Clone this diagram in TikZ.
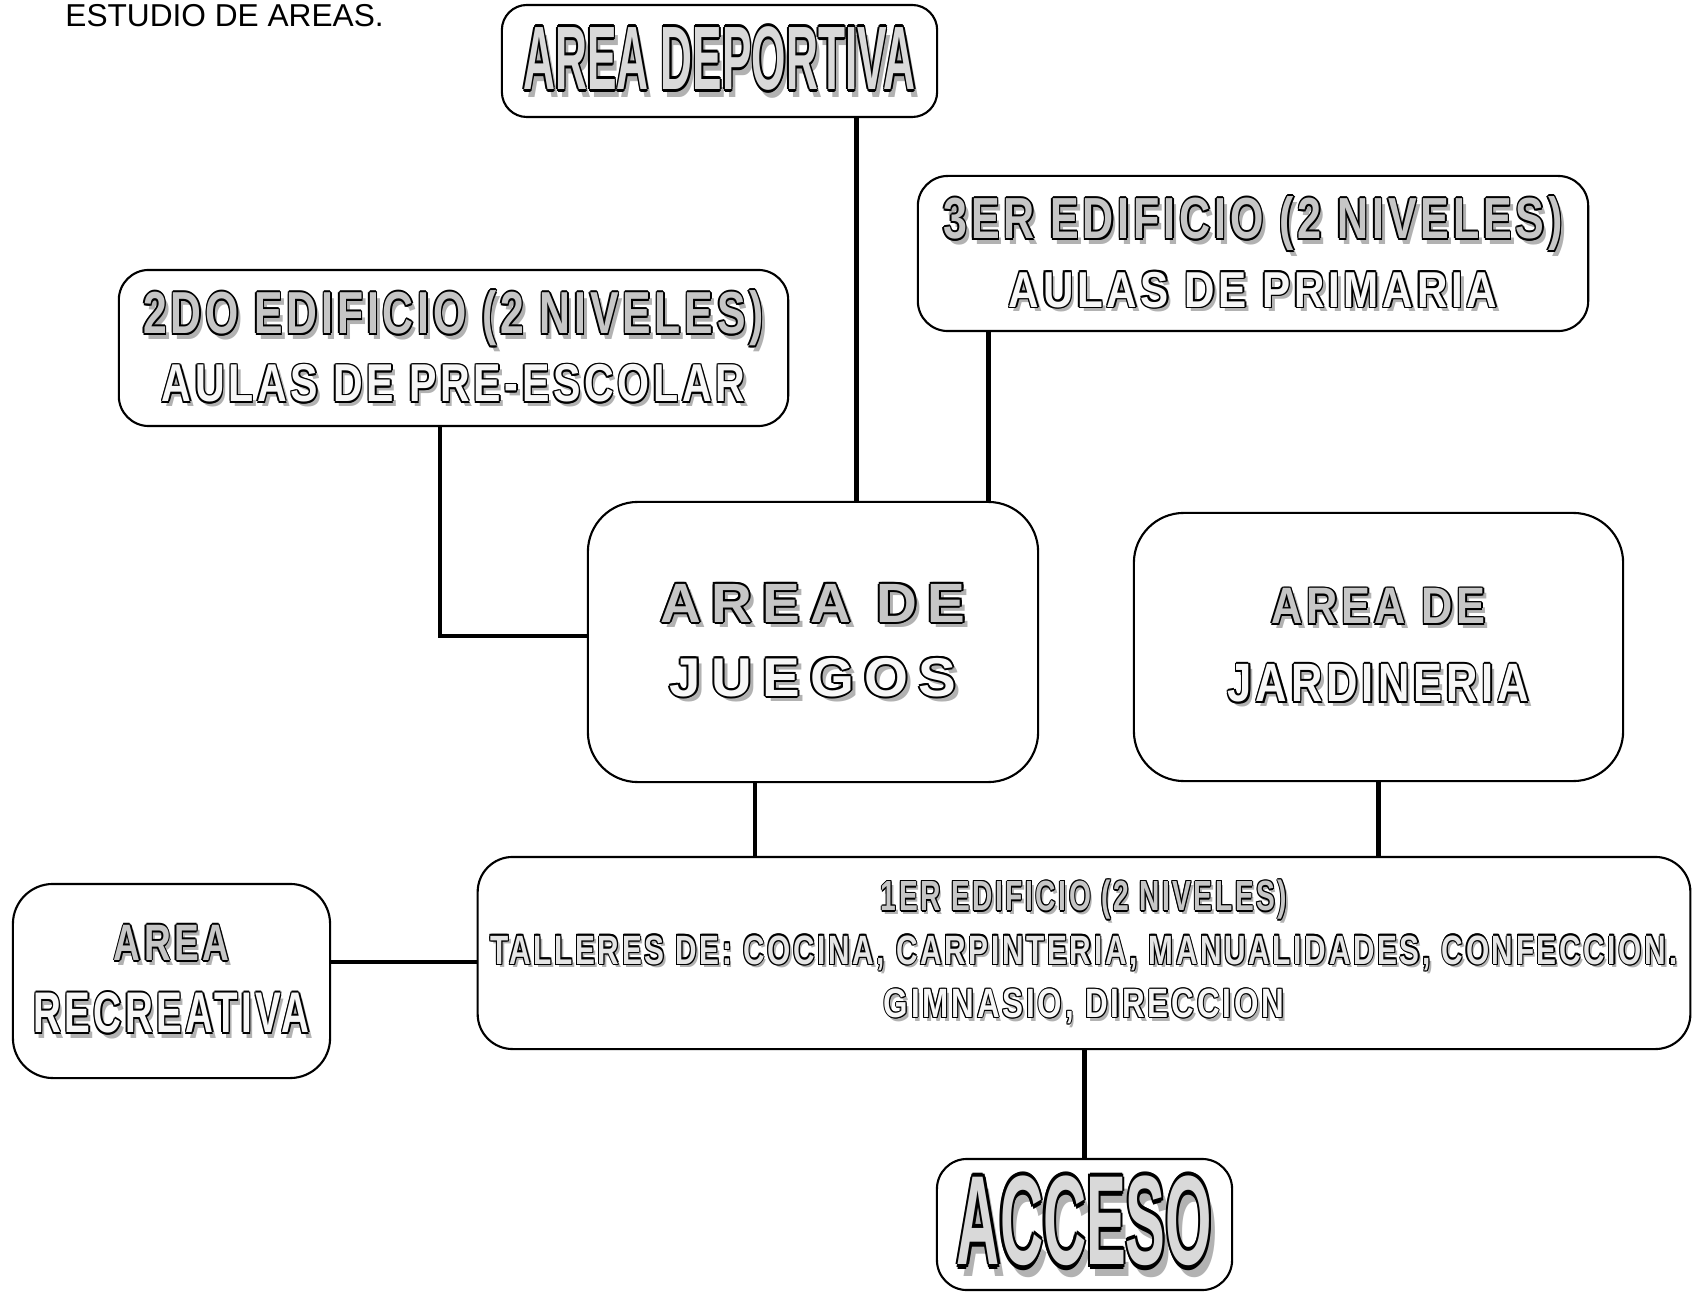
\documentclass[tikz,border=0pt]{standalone}
\usepackage{fontspec}
\usepackage{graphicx}
\setmainfont{Liberation Sans}
\newfontfamily\spaced[LetterSpace=18]{Liberation Sans}
\newfontfamily\wide[LetterSpace=9]{Liberation Sans}

% texto tipo "wordart": sombra, contorno y relleno
\newcommand\wcopy[3]{\makebox[0pt][l]{\kern#1\raisebox{#2}{#3}}}
\newcommand\wart[2]{{%
  \color{gray!60}\wcopy{.09em}{-.09em}{#2}%
  \color{black}%
  \wcopy{.035em}{0em}{#2}\wcopy{-.035em}{0em}{#2}%
  \wcopy{0em}{.035em}{#2}\wcopy{0em}{-.035em}{#2}%
  \wcopy{.025em}{.025em}{#2}\wcopy{-.025em}{.025em}{#2}%
  \wcopy{.025em}{-.025em}{#2}\wcopy{-.025em}{-.025em}{#2}%
  \color{#1}#2}}
\newcommand\wline[4]{\resizebox{#1}{#2}{\wart{#3}{#4}}}

\begin{document}
\begin{tikzpicture}[x=0.01cm,y=-0.01cm,
  box/.style={draw, line width=0.6pt, inner sep=0pt, align=center},
  link/.style={line width=1.4pt}]
\useasboundingbox (0,0) rectangle (1695,1292);

\node[anchor=base west, font=\fontsize{9}{11}\selectfont] (titulo) at (53,27) {ESTUDIO DE AREAS.};

%cajas
\node[box, rounded corners=0.25cm, minimum width=4.35cm, minimum height=1.12cm,
  font=\bfseries] (dep) at (719.5,61)
  {\wline{3.92cm}{0.66cm}{gray!30}{AREA DEPORTIVA}};
\node[box, rounded corners=0.3cm, minimum width=6.70cm, minimum height=1.55cm,
  font=\bfseries\fontsize{10}{19.4pt}\selectfont] (tercero) at (1253,253.5)
  {\wline{6.19cm}{0.44cm}{gray!45}{\wide 3ER EDIFICIO (2 NIVELES)}\\
   \wline{4.88cm}{0.37cm}{gray!6}{\wide AULAS DE PRIMARIA}};
\node[box, rounded corners=0.3cm, minimum width=6.69cm, minimum height=1.56cm,
  font=\bfseries\fontsize{10}{19.4pt}\selectfont] (segundo) at (453.5,348)
  {\wline{6.20cm}{0.45cm}{gray!45}{\wide 2DO EDIFICIO (2 NIVELES)}\\
   \wline{5.83cm}{0.39cm}{gray!6}{\wide AULAS DE PRE-ESCOLAR}};
\node[box, rounded corners=0.5cm, minimum width=4.50cm, minimum height=2.80cm,
  font=\bfseries\fontsize{10}{21pt}\selectfont] (juegos) at (813,642)
  {\wline{3.05cm}{0.40cm}{gray!45}{\spaced AREA DE}\\
   \wline{2.86cm}{0.40cm}{gray!6}{\spaced JUEGOS}};
\node[box, rounded corners=0.5cm, minimum width=4.89cm, minimum height=2.68cm,
  font=\bfseries\fontsize{10}{22.1pt}\selectfont] (jardin) at (1378.5,647)
  {\wline{2.14cm}{0.37cm}{gray!45}{\wide AREA DE}\\
   \wline{3.01cm}{0.39cm}{gray!6}{\wide JARDINERIA}};
\node[box, rounded corners=0.35cm, minimum width=12.12cm, minimum height=1.92cm,
  font=\bfseries\fontsize{10}{15.2pt}\selectfont] (primero) at (1084,953)
  {\wline{4.06cm}{0.32cm}{gray!45}{\wide 1ER EDIFICIO (2 NIVELES)}\\
   \wline{11.86cm}{0.30cm}{gray!20}{\wide TALLERES DE: COCINA, CARPINTERIA, MANUALIDADES, CONFECCION.}\\
   \wline{4.00cm}{0.30cm}{gray!6}{\wide GIMNASIO, DIRECCION}};
\node[box, rounded corners=0.4cm, minimum width=3.17cm, minimum height=1.94cm,
  font=\bfseries\fontsize{10}{20.6pt}\selectfont] (recrea) at (171.5,981)
  {\wline{1.15cm}{0.37cm}{gray!45}{\wide AREA}\\
   \wline{2.76cm}{0.42cm}{gray!6}{\wide RECREATIVA}};
\node[box, rounded corners=0.3cm, minimum width=2.95cm, minimum height=1.31cm,
  font=\bfseries] (acceso) at (1084.5,1224.5)
  {\raisebox{-0.05cm}{\wline{2.55cm}{0.93cm}{gray!30}{ACCESO}}};

%uniones
\draw[link] ([xshift=1.37cm]dep.south) -- ([xshift=1.37cm]dep.south |- juegos.north);
\draw[link] ([xshift=-2.64cm]tercero.south) -- ([xshift=-2.64cm]tercero.south |- juegos.north);
\draw[link] ([xshift=-0.135cm]segundo.south) |- ([yshift=0.06cm]juegos.west);
\draw[link] ([xshift=-0.58cm]juegos.south) -- ([xshift=-0.58cm]juegos.south |- primero.north);
\draw[link] (jardin.south) -- (jardin.south |- primero.north);
\draw[link] ([yshift=0.19cm]recrea.east) -- ([yshift=0.19cm]recrea.east -| primero.west);
\draw[link] (primero.south -| acceso.north) -- (acceso.north);
\end{tikzpicture}
\end{document}
